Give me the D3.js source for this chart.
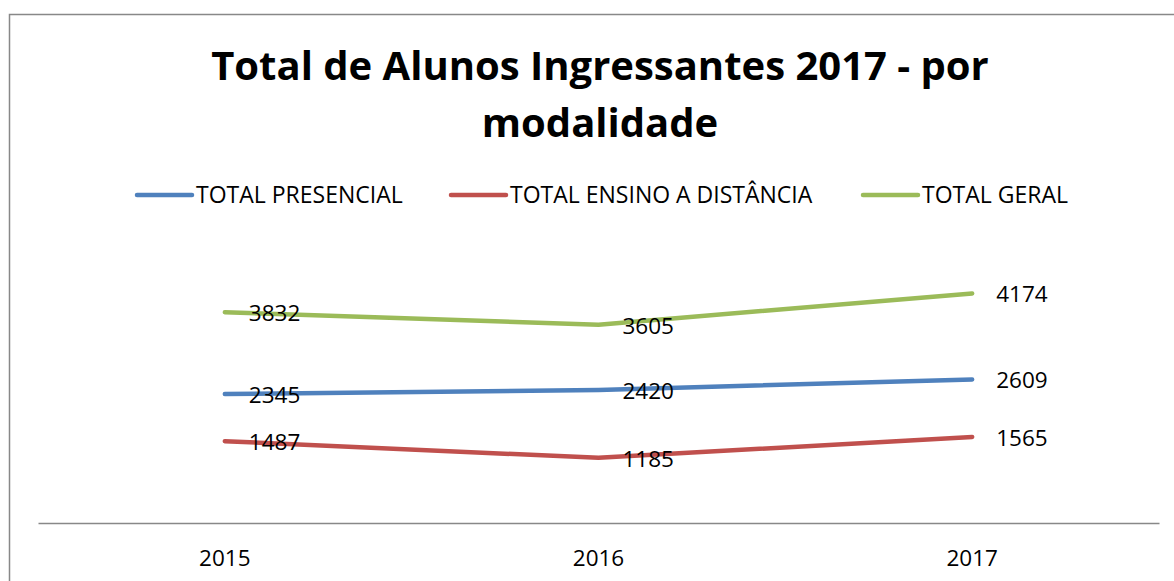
<!DOCTYPE html>
<html>
<head>
<meta charset="utf-8">
<script src="https://cdn.jsdelivr.net/npm/d3@7"></script>
<style>
  html, body { margin: 0; padding: 0; background: #fff; }
  svg { display: block; font-family: "Open Sans", sans-serif; }
</style>
</head>
<body>
<div id="chart"></div>
<script>
const years = ["2015", "2016", "2017"];
const presencial = [2345, 2420, 2609];
const distancia = [1487, 1185, 1565];
const geral = [3832, 3605, 4174];
const seriesNames = ["TOTAL PRESENCIAL", "TOTAL ENSINO A DISTÂNCIA", "TOTAL GERAL"];
const titleLines = ["Total de Alunos Ingressantes 2017 - por", "modalidade"];

const colors = ["#4F81BD", "#C0504D", "#9BBB59"];
const width = 1174;
const height = 581;

const series = [presencial, distancia, geral].map((values, i) => ({
  name: seriesNames[i],
  color: colors[i],
  points: values.map((v, j) => ({year: years[j], value: v}))
}));

const x = d3.scaleBand()
  .domain(years)
  .range([38, 1159]);

const y = d3.scaleLinear()
  .domain([0, 5000])
  .range([523, 248]);

const svg = d3.select("#chart").append("svg")
  .attr("width", width)
  .attr("height", height)
  .attr("viewBox", [0, 0, width, height]);

svg.append("rect")
  .attr("width", width).attr("height", height)
  .attr("fill", "#fff");

// chart border (only left/top visible in the crop)
svg.append("rect")
  .attr("x", 9.5).attr("y", 14.5)
  .attr("width", width + 20).attr("height", height + 20)
  .attr("fill", "none")
  .attr("stroke", "#888")
  .attr("stroke-width", 1.5);

// title
svg.append("text")
  .attr("text-anchor", "middle")
  .attr("font-weight", "bold")
  .attr("font-size", 40)
  .attr("fill", "#000")
  .selectAll("tspan")
  .data(titleLines)
  .join("tspan")
    .attr("x", 600)
    .attr("y", (d, i) => 80 + i * 57)
    .text(d => d);

// legend
const legendX = [137, 451, 863];
const legend = svg.append("g")
  .selectAll("g")
  .data(series)
  .join("g")
    .attr("transform", (d, i) => `translate(${legendX[i]}, 195)`);

legend.append("line")
  .attr("x1", 0).attr("x2", 55)
  .attr("stroke", d => d.color)
  .attr("stroke-width", 4.5)
  .attr("stroke-linecap", "round");

legend.append("text")
  .attr("x", 59)
  .attr("dy", "0.35em")
  .attr("font-size", 23)
  .attr("fill", "#000")
  .text(d => d.name);

// x axis
svg.append("g")
  .attr("transform", "translate(0, 523)")
  .call(d3.axisBottom(x).tickSize(0).tickPadding(27))
  .call(g => g.select(".domain").attr("stroke", "#888").attr("stroke-width", 1.5))
  .call(g => g.selectAll(".tick text")
    .attr("font-family", "Open Sans, sans-serif")
    .attr("font-size", 22.5)
    .attr("fill", "#000"));

const cx = d => x(d.year) + x.bandwidth() / 2;

const line = d3.line()
  .x(cx)
  .y(d => y(d.value));

svg.append("g")
  .selectAll("path")
  .data(series)
  .join("path")
    .attr("fill", "none")
    .attr("stroke", d => d.color)
    .attr("stroke-width", 4.5)
    .attr("stroke-linecap", "round")
    .attr("stroke-linejoin", "round")
    .attr("d", d => line(d.points));

// data labels
svg.append("g")
  .selectAll("text")
  .data(series.flatMap(s => s.points))
  .join("text")
    .attr("x", d => cx(d) + 24)
    .attr("y", d => y(d.value) + 1)
    .attr("dy", "0.35em")
    .attr("font-size", 22.5)
    .attr("fill", "#000")
    .text(d => d.value);
</script>
</body>
</html>
